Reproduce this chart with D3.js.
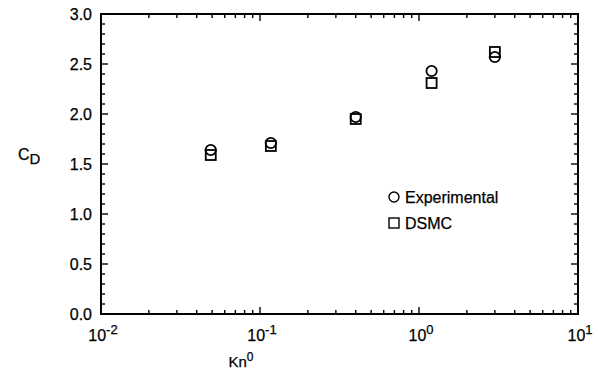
<!DOCTYPE html>
<html><head><meta charset="utf-8">
<script src="https://cdn.jsdelivr.net/npm/d3@7"></script>
<style>
body{margin:0;background:#fff;}
svg text{font-family:"Liberation Sans",Arial,Helvetica,sans-serif;fill:#000;stroke:#000;stroke-width:0.25px;}
</style></head>
<body><svg id="c" width="598" height="372"></svg>
<script>
const knValues = [0.049, 0.117, 0.40, 1.2, 3.0];
const experimental = [1.64, 1.71, 1.97, 2.43, 2.57];
const dsmc = [1.59, 1.68, 1.95, 2.31, 2.62];
const yTicks = [0.0, 0.5, 1.0, 1.5, 2.0, 2.5, 3.0];
const xTickExps = [-2, -1, 0, 1];
const legendLabels = ["Experimental", "DSMC"];

const svg = d3.select("#c");
const L = 101, R = 578, T = 14, B = 314;
const x = d3.scaleLog().domain([0.01, 10]).range([L, R]);
const y = d3.scaleLinear().domain([0, 3]).range([B, T]);

const g = svg.append("g");
const minorX = [];
for (let e = -2; e < 1; e++) for (let m = 2; m <= 9; m++) minorX.push(m * Math.pow(10, e));
const minorY = d3.range(0, 31).map(i => i / 10).filter(v => Math.round(v * 10) % 5 !== 0);

function tickLines(vals, len, horiz) {
  vals.forEach(v => {
    if (horiz) {
      const xx = x(v);
      g.append("line").attr("x1", xx).attr("x2", xx).attr("y1", B).attr("y2", B - len);
      g.append("line").attr("x1", xx).attr("x2", xx).attr("y1", T).attr("y2", T + len);
    } else {
      const yy = y(v);
      g.append("line").attr("x1", L).attr("x2", L + len).attr("y1", yy).attr("y2", yy);
      g.append("line").attr("x1", R).attr("x2", R - len).attr("y1", yy).attr("y2", yy);
    }
  });
}
tickLines(minorX, 4, true);
tickLines(xTickExps.map(e => Math.pow(10, e)), 7, true);
tickLines(minorY, 4, false);
tickLines(yTicks, 7, false);
g.selectAll("line").attr("stroke", "#000").attr("stroke-width", 1.4);

svg.append("rect").attr("x", L).attr("y", T).attr("width", R - L).attr("height", B - T)
  .attr("fill", "none").attr("stroke", "#000").attr("stroke-width", 2);

svg.selectAll(".yl").data(yTicks).enter().append("text")
  .attr("x", L - 9).attr("y", d => y(d) + 6).attr("text-anchor", "end")
  .attr("font-size", 16).text(d => d.toFixed(1));

xTickExps.forEach(e => {
  const t = svg.append("text").attr("x", x(Math.pow(10, e)) + 2).attr("y", 341)
    .attr("text-anchor", "middle").attr("font-size", 16);
  t.append("tspan").text("10");
  t.append("tspan").attr("dy", -7).attr("font-size", 13).text(String(e));
});

const xt = svg.append("text").attr("x", 241).attr("y", 367).attr("text-anchor", "middle").attr("font-size", 15);
xt.append("tspan").text("Kn");
xt.append("tspan").attr("dy", -6).attr("font-size", 12).text("0");

const yt = svg.append("text").attr("x", 18).attr("y", 160).attr("font-size", 16);
yt.append("tspan").text("C");
yt.append("tspan").attr("dy", 4).attr("font-size", 15).text("D");

const sq = 10, rc = 5.2;
svg.selectAll(".dsmc").data(knValues).enter().append("rect")
  .attr("x", (d) => x(d) - sq / 2).attr("y", (d, i) => y(dsmc[i]) - sq / 2)
  .attr("width", sq).attr("height", sq)
  .attr("fill", "none").attr("stroke", "#000").attr("stroke-width", 1.8);
svg.selectAll(".exp").data(knValues).enter().append("circle")
  .attr("cx", d => x(d)).attr("cy", (d, i) => y(experimental[i]))
  .attr("r", rc).attr("fill", "none").attr("stroke", "#000").attr("stroke-width", 1.8);

const lx = 394, ly = [197, 223];
svg.append("circle").attr("cx", lx).attr("cy", ly[0]).attr("r", 5)
  .attr("fill", "none").attr("stroke", "#000").attr("stroke-width", 1.4);
svg.append("rect").attr("x", lx - 5).attr("y", ly[1] - 5).attr("width", 10).attr("height", 10)
  .attr("fill", "none").attr("stroke", "#000").attr("stroke-width", 1.4);
legendLabels.forEach((s, i) => {
  svg.append("text").attr("x", lx + 11).attr("y", ly[i] + 6).attr("font-size", 16).text(s);
});
</script></body></html>
